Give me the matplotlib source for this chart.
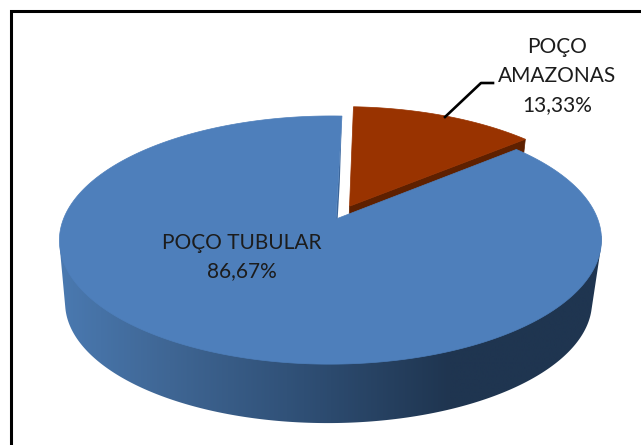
import numpy as np
import matplotlib
matplotlib.use("Agg")
import matplotlib.pyplot as plt
from matplotlib.colors import LinearSegmentedColormap
from matplotlib.patches import Polygon

labels = ["POÇO\nAMAZONAS\n13,33%", "POÇO TUBULAR\n86,67%"]
values = [13.33, 86.67]
slice_colors = ["#993300", "#4e7fbb"]
red_wall = "#5e2000"
start_angle = 1.5
explode = 0.12

W, H = 641, 445
fig = plt.figure(figsize=(W / 100, H / 100), dpi=100)
ax = fig.add_axes([0, 0, 1, 1])
ax.axis("off")

K, M = 0.1696, 0.0203
A, B = 267.0, 120.5


def project(u, v, level=0):
    """Perspective view of the pie disc; level 0 is the top, 1 the bottom."""
    w = 1 + K * v + M * u
    s, x0, y0 = (1.0, 336.0, 219.0) if level == 0 else (0.972, 334.0, 282.0)
    return x0 + s * A * u / w, y0 - s * B * v / w


def rim(deg, level=0, du=0.0, dv=0.0):
    t = np.radians(deg)
    return project(np.sin(t) + du, np.cos(t) + dv, level)


def hull(points):
    pts = sorted(map(tuple, points))
    def half(seq):
        out = []
        for p in seq:
            while len(out) > 1 and ((out[-1][0] - out[-2][0]) * (p[1] - out[-2][1])
                                    - (out[-1][1] - out[-2][1]) * (p[0] - out[-2][0])) <= 0:
                out.pop()
            out.append(p)
        return out[:-1]
    return np.array(half(pts) + half(pts[::-1]))


red_span = values[0] / sum(values) * 360
red_end = start_angle + red_span
mid = np.radians(start_angle + red_span / 2)
du, dv = explode * np.sin(mid), explode * np.cos(mid)

# outer wall of the big slice, shaded from left to right
wall_cmap = LinearSegmentedColormap.from_list(
    "wall",
    [(0.0, "#4a79b0"), (0.2, "#3f6694"), (0.45, "#2f4f75"),
     (0.72, "#1f3550"), (1.0, "#1f3550")],
)
angles = np.linspace(red_end, start_angle + 360, 721)
tx, ty = rim(angles, 0)
bx, by = rim(angles, 1)
all_rim = np.column_stack([np.r_[tx, bx], np.r_[ty, by]])
outline = hull(all_rim[all_rim[:, 1] >= 235])
clip = Polygon(outline, closed=True, transform=ax.transData, fc="none", ec="none")
ax.add_patch(clip)
img = ax.imshow(np.linspace(0, 1, 540).reshape(1, -1), cmap=wall_cmap, aspect="auto",
                extent=[60, 602, 430, 100], zorder=1, interpolation="bilinear")
img.set_clip_path(clip)
ax.set_xlim(0, W)
ax.set_ylim(H, 0)

# cut faces
a0 = project(du, dv, 0)
a1 = project(du, dv, 1)
c0 = rim(red_end, 0, du, dv)
c1 = rim(red_end, 1, du, dv)
ax.add_patch(Polygon([a0, c0, c1, a1], closed=True, fc=red_wall, ec=red_wall, lw=0.5, zorder=2))

b0 = project(0, 0, 0)
b1 = project(0, 0, 1)
e0 = rim(start_angle, 0)
e1 = rim(start_angle, 1)
ax.add_patch(Polygon([b0, e0, e1, b1], closed=True, fc="#3a659a", ec="none", zorder=2))

# top faces
ax.add_patch(Polygon(np.column_stack([np.r_[b0[0], tx], np.r_[b0[1], ty]]), closed=True,
                     fc=slice_colors[1], ec=slice_colors[1], lw=0.5, zorder=3))
ang_r = np.linspace(start_angle, red_end, 120)
rx, ry = rim(ang_r, 0, du, dv)
ax.add_patch(Polygon(np.column_stack([np.r_[a0[0], rx], np.r_[a0[1], ry]]), closed=True,
                     fc=slice_colors[0], ec=slice_colors[0], lw=0.5, zorder=4))

# frame
ax.plot([10.5, 10.5, 641], [445, 10.5, 10.5], color="black", lw=2.2,
        solid_joinstyle="miter", zorder=6)

# labels and leader line
ax.plot([445, 481, 493], [117, 83, 83], color="black", lw=1.9, zorder=5)
ax.text(557, 76, labels[0], ha="center", va="center", fontsize=15, family="Lato",
        color="#1c1c1c", linespacing=1.55, zorder=7)
ax.text(242, 257, labels[1], ha="center", va="center", fontsize=15, family="Lato",
        color="#1c1c1c", linespacing=1.55, zorder=7)

fig.savefig("out.png", dpi=100)
